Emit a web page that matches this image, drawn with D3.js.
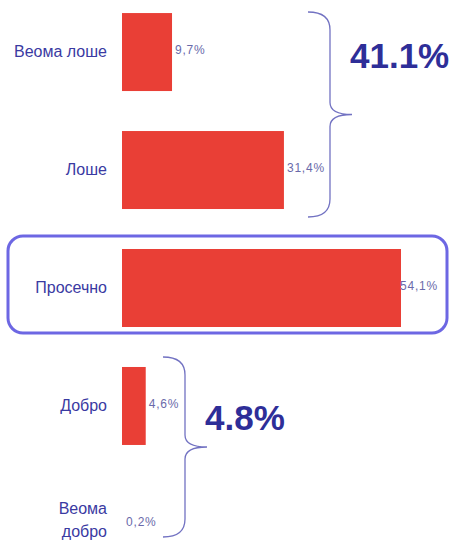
<!DOCTYPE html>
<html>
<head>
<meta charset="utf-8">
<script src="https://cdn.jsdelivr.net/npm/d3@7"></script>
<style>
    body { margin: 0; background: #fff; }
    svg { display: block; font-family: Arial, 'Liberation Sans', sans-serif; }
</style>
</head>
<body>
<svg></svg>
<script>
// ratings, top to bottom
const categories = ['Веома лоше', 'Лоше', 'Просечно', 'Добро', 'Веома добро'],
    values = [9.7, 31.4, 54.1, 4.6, 0.2],
    valueLabels = ['9,7%', '31,4%', '54,1%', '4,6%', '0,2%'],
    groupLabels = ['41.1%', '4.8%'],
    highlighted = 'Просечно';

var width = 455,
    height = 544,
    barLeft = 122;

var svg = d3.select('svg')
    .attr('width', width)
    .attr('height', height);

var x = d3.scaleLinear()
    .domain([0, 54.1])
    .range([0, 279]);

var y = d3.scaleBand()
    .domain(categories)
    .range([-7, 583])
    .paddingInner(0.339)
    .paddingOuter(0.17);

// frame round the highlighted row
svg.append('rect')
    .attr('x', 8)
    .attr('y', y(highlighted) - 13)
    .attr('width', 439)
    .attr('height', y.bandwidth() + 19)
    .attr('rx', 15)
    .attr('fill', 'none')
    .attr('stroke', '#6d67e3')
    .attr('stroke-width', 3);

// bars narrower than 2px do not show in the original
svg.selectAll('.bar')
    .data(categories)
  .enter().append('rect')
    .attr('class', 'bar')
    .attr('x', barLeft)
    .attr('y', function(d) { return y(d); })
    .attr('width', function(d, i) { return x(values[i]) < 2 ? 0 : x(values[i]); })
    .attr('height', y.bandwidth())
    .attr('fill', '#e93f36');

// category names
svg.selectAll('.cat')
    .data(categories)
  .enter().append('text')
    .attr('class', 'cat')
    .attr('text-anchor', 'end')
    .attr('fill', '#3a3aa2')
    .style('font-size', '16px')
    .each(function(d) {
        var t = d3.select(this),
            cy = y(d) + y.bandwidth() / 2,
            words = d === 'Веома добро' ? ['Веома', 'добро'] : [d];
        words.forEach(function(w, k) {
            t.append('tspan')
                .attr('x', 107)
                .attr('y', cy + 5 + (k - (words.length - 1) / 2) * 23 - (words.length > 1 ? 3 : 0))
                .text(w);
        });
    });

// value labels
svg.selectAll('.val')
    .data(categories)
  .enter().append('text')
    .attr('class', 'val')
    .attr('x', function(d, i) { return barLeft + x(values[i]) + (i === 2 ? -1 : 3); })
    .attr('y', function(d) { return y(d) + y.bandwidth() / 2 + 2; })
    .attr('fill', '#6a6aaa')
    .style('font-size', '12px')
    .style('letter-spacing', '0.8px')
    .text(function(d, i) { return valueLabels[i]; });

// curly braces for the groups
var braces = [
    {x0: 308, x1: 330, x2: 352, y0: 12, y1: 217, label: groupLabels[0], lx: 350, ly: 68},
    {x0: 163, x1: 185, x2: 207, y0: 357, y1: 537, label: groupLabels[1], lx: 205, ly: 430}
];

function bracePath(b) {
    var mid = (b.y0 + b.y1) / 2,
        p = d3.path();
    p.moveTo(b.x0, b.y0);
    p.quadraticCurveTo(b.x1, b.y0, b.x1, b.y0 + 18);
    p.lineTo(b.x1, mid - 12);
    p.quadraticCurveTo(b.x1, mid, b.x2, mid);
    p.quadraticCurveTo(b.x1, mid, b.x1, mid + 12);
    p.lineTo(b.x1, b.y1 - 18);
    p.quadraticCurveTo(b.x1, b.y1, b.x0, b.y1);
    return p.toString();
}

svg.selectAll('.brace')
    .data(braces)
  .enter().append('path')
    .attr('class', 'brace')
    .attr('d', bracePath)
    .attr('fill', 'none')
    .attr('stroke', '#7272c2')
    .attr('stroke-width', 1.3);

svg.selectAll('.total')
    .data(braces)
  .enter().append('text')
    .attr('class', 'total')
    .attr('x', function(d) { return d.lx; })
    .attr('y', function(d) { return d.ly; })
    .attr('fill', '#2e2e98')
    .style('font-size', '35px')
    .style('font-weight', 'bold')
    .text(function(d) { return d.label; });
</script>
</body>
</html>
